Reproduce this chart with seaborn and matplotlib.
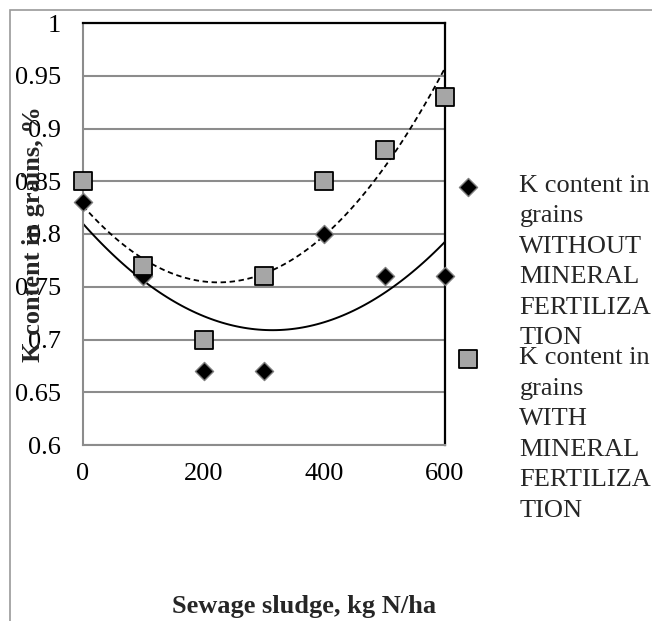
"""
K content in grains vs. sewage sludge dose, with quadratic trend lines.
"""
import numpy as np
import pandas as pd
import seaborn as sns
import matplotlib.pyplot as plt
from matplotlib.patches import Rectangle
from matplotlib.ticker import FuncFormatter

# ── data ──────────────────────────────────────────────────────────────────
sludge    = [0, 100, 200, 300, 400, 500, 600]
k_without = [0.83, 0.76, 0.67, 0.67, 0.80, 0.76, 0.76]
k_with    = [0.85, 0.77, 0.70, 0.76, 0.85, 0.88, 0.93]

label_without = "K content in\ngrains\nWITHOUT\nMINERAL\nFERTILIZA\nTION"
label_with    = "K content in\ngrains\nWITH\nMINERAL\nFERTILIZA\nTION"

x_ticks = [0, 200, 400, 600]
y_ticks = [0.6, 0.65, 0.7, 0.75, 0.8, 0.85, 0.9, 0.95, 1.0]

df = pd.DataFrame({"sludge": sludge, "without": k_without, "with": k_with})

# ── style ─────────────────────────────────────────────────────────────────
sns.set_theme(style="white")
plt.rcParams["font.family"] = ["Liberation Serif", "DejaVu Serif"]
FS = 19

fig = plt.figure(figsize=(6.52, 6.21), dpi=100)
ax = fig.add_axes([83 / 652, 1 - 445 / 621, 362 / 652, 422 / 621])

# grey outer chart border (only left and top edges visible)
fig.patches.append(Rectangle((10 / 652, -0.2), 1.5, 1.2 - 10 / 621,
                             transform=fig.transFigure, fill=False,
                             edgecolor="#9a9a9a", lw=1.2, zorder=0))

# trend lines (2nd order polynomial)
sns.regplot(data=df, x="sludge", y="without", order=2, ci=None, scatter=False,
            color="black", line_kws=dict(lw=1.4, zorder=2), ax=ax)
sns.regplot(data=df, x="sludge", y="with", order=2, ci=None, scatter=False,
            color="black", line_kws=dict(lw=1.3, ls=(0, (3, 2)), zorder=2), ax=ax)

# points
sns.scatterplot(data=df, x="sludge", y="without", marker="D", s=85,
                color="black", edgecolor="#7f7f7f", linewidth=1.0,
                label=label_without, zorder=3, clip_on=False, ax=ax)
sns.scatterplot(data=df, x="sludge", y="with", marker="s", s=180,
                color="#a6a6a6", edgecolor="black", linewidth=1.3,
                label=label_with, zorder=4, clip_on=False, ax=ax)

# axes
ax.set_xlim(0, 600)
ax.set_ylim(0.6, 1.0)
ax.set_xticks(x_ticks)
ax.set_yticks(y_ticks)
ax.yaxis.set_major_formatter(FuncFormatter(lambda v, _: f"{v:g}"))
ax.tick_params(axis="both", length=0, labelsize=FS, colors="black")
ax.tick_params(axis="y", pad=16)
ax.tick_params(axis="x", pad=13)
ax.yaxis.grid(True, color="#8c8c8c", lw=1.5)
ax.set_axisbelow(True)

for side in ("top", "right"):
    ax.spines[side].set_color("black")
    ax.spines[side].set_linewidth(1.6)
for side in ("left", "bottom"):
    ax.spines[side].set_color("#8c8c8c")
    ax.spines[side].set_linewidth(1.5)

ax.set_xlabel("Sewage sludge, kg N/ha", fontsize=FS, fontweight="bold")
ax.set_ylabel("K content in grains, %", fontsize=FS, fontweight="bold")
ax.xaxis.set_label_coords(0.61, -0.355)
ax.yaxis.set_label_coords(-0.105, 0.5)

# legend outside on the right, marker level with the first text line
leg = ax.legend(loc="upper left", bbox_to_anchor=(455 / 652, 1 - 175 / 621),
                bbox_transform=fig.transFigure, frameon=False, fontsize=FS,
                handlelength=1.0, handletextpad=1.44, borderpad=0,
                borderaxespad=0, labelspacing=-0.08)
for t in leg.get_texts():
    t.set_linespacing(1.5)
for col in leg._legend_handle_box.get_children():
    for row in col.get_children():
        row.align = "top"

fig.savefig("out.png", dpi=100)
